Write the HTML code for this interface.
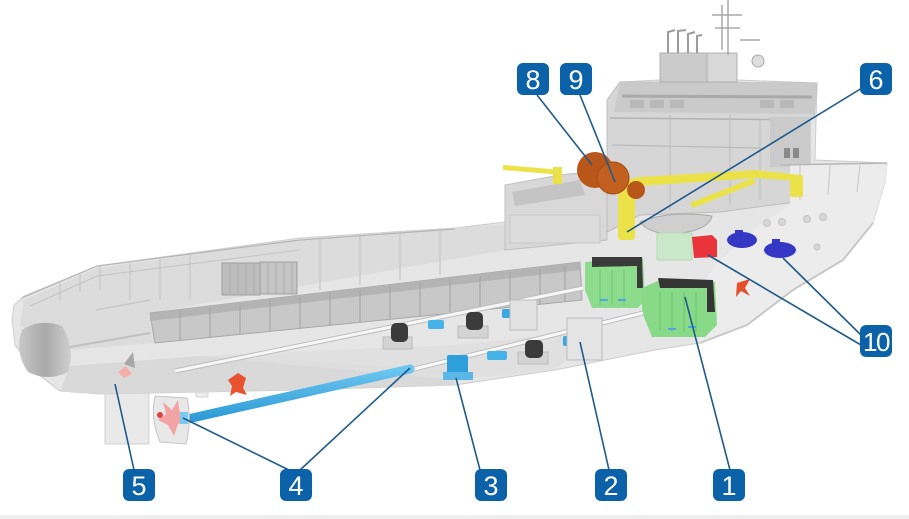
<!DOCTYPE html>
<html><head><meta charset="utf-8"><style>
html,body{margin:0;padding:0;background:#fff;}
svg{display:block;}
.lb{font-family:"Liberation Sans",sans-serif;font-size:27px;fill:#fff;text-anchor:middle;}
</style></head><body>
<svg width="909" height="519" viewBox="0 0 909 519" xmlns="http://www.w3.org/2000/svg">
<defs>
<linearGradient id="cyl" x1="0" y1="0" x2="1" y2="0">
<stop offset="0" stop-color="#c8c8c8"/><stop offset="0.5" stop-color="#a9a9a9"/><stop offset="1" stop-color="#cfcfcf"/></linearGradient>
<linearGradient id="shaft" x1="0" y1="0" x2="0" y2="1">
<stop offset="0" stop-color="#6cc6f0"/><stop offset="1" stop-color="#2c9ad6"/></linearGradient>
</defs>
<rect width="909" height="519" fill="#fff"/>
<rect x="0" y="515" width="909" height="4" fill="#efefef"/>

<!-- skeg / rudder (behind hull) -->
<rect x="105" y="378" width="44" height="66" fill="#e9e9e9" stroke="#d2d2d2" stroke-width="1"/>
<rect x="196" y="355" width="12" height="42" fill="#ececec" stroke="#d6d6d6"/>

<!-- hull silhouette -->
<path d="M12,320 L14,305 L24,296 L97,266 L300,238 L455,228 L505,222 L508,185 L560,175 L607,170 L607,100 L620,82 L660,80 L660,53 L737,53 L737,80 L817,83 L815,160 L887,163 L885,182 L873,223 L843,260 L793,290 L747,325 L700,343 L655,350 L555,370 L455,385 L300,390 L100,394 L60,391 L35,372 L15,345 Z" fill="#e6e6e6" stroke="#cdcdcd" stroke-width="1"/>

<!-- aft deck surface -->
<path d="M24,300 L97,268 L300,240 L505,224 L505,250 L150,313 L155,343 L70,350 L20,326 Z" fill="#dcdcdc"/>
<!-- lower hull darker band -->
<path d="M70,366 L200,356 L455,370 L455,385 L300,390 L100,394 L60,391 Z" fill="#d9d9d9"/>
<path d="M200,356 L455,345 L600,330 L555,370 L455,380 Z" fill="#dedede" opacity="0.8"/>
<!-- stern cylinder -->
<path d="M22,330 Q40,318 62,326 Q76,350 68,372 Q48,382 28,372 Q14,352 22,330 Z" fill="url(#cyl)"/>

<!-- aft rail -->
<polyline points="22,298 97,266 300,240 455,229" fill="none" stroke="#b5b5b5" stroke-width="1.2"/>
<polyline points="30,306 97,276 300,250" fill="none" stroke="#c4c4c4" stroke-width="1"/>
<g stroke="#c2c2c2" stroke-width="1">
<line x1="60" y1="283" x2="60" y2="300"/><line x1="80" y1="274" x2="80" y2="292"/>
<line x1="100" y1="266" x2="100" y2="290"/><line x1="130" y1="262" x2="130" y2="300"/>
<line x1="160" y1="258" x2="160" y2="300"/><line x1="190" y1="254" x2="190" y2="300"/>
<line x1="320" y1="237" x2="320" y2="290"/><line x1="360" y1="234" x2="360" y2="285"/>
<line x1="400" y1="231" x2="400" y2="280"/><line x1="440" y1="229" x2="440" y2="275"/>
</g>
<!-- side rail -->
<polyline points="70,347 150,333" fill="none" stroke="#c0c0c0" stroke-width="2"/>
<polyline points="96,310 150,300" fill="none" stroke="#c8c8c8" stroke-width="1.5"/>

<!-- containers -->
<rect x="222" y="263" width="38" height="32" fill="#bdbdbd" stroke="#9e9e9e"/>
<rect x="260" y="262" width="37" height="32" fill="#c4c4c4" stroke="#9e9e9e"/>
<g stroke="#a5a5a5" stroke-width="0.8">
<line x1="230" y1="264" x2="230" y2="294"/><line x1="238" y1="264" x2="238" y2="294"/><line x1="246" y1="264" x2="246" y2="294"/><line x1="254" y1="264" x2="254" y2="294"/>
<line x1="268" y1="263" x2="268" y2="293"/><line x1="276" y1="263" x2="276" y2="293"/><line x1="284" y1="263" x2="284" y2="293"/><line x1="292" y1="263" x2="292" y2="293"/>
</g>

<!-- cargo rail -->
<path d="M150,313 L580,262 L582,300 L155,343 Z" fill="#c8c8c8" stroke="#a8a8a8" stroke-width="1"/>
<path d="M150,313 L580,262 L580,270 L150,321 Z" fill="#b4b4b4"/>
<g stroke="#a6a6a6" stroke-width="1.2">
<line x1="180" y1="311" x2="180" y2="340"/><line x1="210" y1="307" x2="210" y2="337"/>
<line x1="240" y1="304" x2="240" y2="334"/><line x1="270" y1="300" x2="270" y2="331"/>
<line x1="300" y1="297" x2="300" y2="328"/><line x1="330" y1="293" x2="330" y2="325"/>
<line x1="360" y1="290" x2="360" y2="322"/><line x1="390" y1="286" x2="390" y2="319"/>
<line x1="420" y1="283" x2="420" y2="316"/><line x1="450" y1="279" x2="450" y2="313"/>
<line x1="480" y1="276" x2="480" y2="310"/><line x1="510" y1="272" x2="510" y2="307"/>
<line x1="540" y1="269" x2="540" y2="304"/><line x1="565" y1="266" x2="565" y2="301"/>
</g>

<!-- boat deck block -->
<path d="M505,185 L560,175 L607,170 L607,240 L505,250 Z" fill="#d8d8d8" stroke="#c0c0c0"/>
<path d="M512,192 L580,180 L585,195 L515,206 Z" fill="#c4c4c4"/>
<rect x="510" y="215" width="90" height="28" fill="#dcdcdc" stroke="#c8c8c8"/>

<!-- superstructure -->
<path d="M607,100 L620,82 L817,83 L814,118 L810,118 L810,200 L720,212 L640,215 L607,232 Z" fill="#d6d6d6" stroke="#bdbdbd"/>
<path d="M620,82 L817,83 L815,114 L614,112 Z" fill="#cacaca"/>
<line x1="622" y1="96" x2="812" y2="97" stroke="#a9a9a9" stroke-width="3"/>
<g fill="#b8b8b8"><rect x="630" y="100" width="14" height="8"/><rect x="650" y="100" width="14" height="8"/><rect x="670" y="100" width="14" height="8"/><rect x="760" y="100" width="14" height="8"/><rect x="780" y="100" width="14" height="8"/></g>
<line x1="610" y1="118" x2="810" y2="120" stroke="#b3b3b3" stroke-width="1.5"/>
<line x1="612" y1="145" x2="760" y2="148" stroke="#bbbbbb" stroke-width="1.2"/>
<g stroke="#bcbcbc" stroke-width="1"><line x1="670" y1="115" x2="670" y2="210"/><line x1="730" y1="115" x2="730" y2="205"/><line x1="760" y1="120" x2="760" y2="200"/></g>
<rect x="770" y="117" width="40" height="50" fill="#cbcbcb"/>
<rect x="784" y="148" width="6" height="10" fill="#8a8a8a"/><rect x="793" y="148" width="6" height="10" fill="#8a8a8a"/>
<!-- funnel -->
<path d="M660,53 L707,53 L707,82 L660,82 Z" fill="#cbcbcb" stroke="#b0b0b0"/>
<path d="M707,53 L737,53 L737,82 L707,82 Z" fill="#d8d8d8" stroke="#b0b0b0"/>
<g fill="none" stroke="#9c9c9c" stroke-width="2">
<path d="M668,53 L668,32 L675,30"/><path d="M678,53 L678,31 L686,30"/><path d="M688,53 L688,34 L695,32"/><path d="M697,53 L697,36 L702,35"/>
</g>
<g stroke="#a8a8a8" stroke-width="1.5">
<line x1="728" y1="0" x2="728" y2="55"/><line x1="722" y1="5" x2="722" y2="50"/>
<line x1="712" y1="15" x2="742" y2="15"/><line x1="715" y1="28" x2="740" y2="28"/>
<line x1="740" y1="40" x2="760" y2="40"/>
</g>
<circle cx="758" cy="61" r="6" fill="#dedede" stroke="#aaa"/>

<!-- bow -->
<path d="M790,165 L887,165 L885,182 L873,223 L843,260 L793,290 L747,325 L700,343 L690,300 L720,260 L760,225 L790,205 Z" fill="#ececec"/>
<polyline points="780,165 887,163" fill="none" stroke="#b8b8b8" stroke-width="1.5"/>
<g stroke="#c6c6c6"><line x1="800" y1="165" x2="800" y2="200"/><line x1="830" y1="165" x2="828" y2="195"/><line x1="860" y1="165" x2="857" y2="192"/></g>
<g fill="#d6d6d6" stroke="#c4c4c4">
<circle cx="767" cy="223" r="3.5"/><circle cx="782" cy="222" r="3.5"/><circle cx="807" cy="219" r="3.5"/><circle cx="823" cy="217" r="3.5"/><circle cx="817" cy="247" r="3"/>
</g>
<path d="M700,343 L747,325 L793,290 L843,260 L873,223" fill="none" stroke="#c8c8c8" stroke-width="2"/>

<!-- lifeboat -->
<path d="M640,222 Q670,210 712,216 Q708,232 670,234 Q648,233 640,222 Z" fill="#cfcfcf" stroke="#a8a8a8"/>

<!-- yellow cranes -->
<g fill="#ebe24a">
<rect x="618" y="188" width="17" height="52" rx="3"/>
<path d="M620,190 Q625,178 640,177 L757,170 L800,175 L800,181 L757,178 L640,186 Z"/>
<path d="M690,203 L753,178 L756,183 L693,208 Z"/>
<rect x="790" y="175" width="13" height="22" rx="2"/>
<path d="M503,165 L562,170 L562,175 L503,170 Z"/>
<rect x="553" y="167" width="9" height="17"/>
</g>

<!-- winches 8/9 -->
<circle cx="595" cy="170" r="18" fill="#b9561a"/>
<circle cx="613" cy="178" r="16" fill="#c4601f" stroke="#a04a14" stroke-width="1"/>
<circle cx="636" cy="190" r="9" fill="#b9561a"/>

<!-- green transparent box, red box, pumps -->
<rect x="657" y="233" width="35" height="27" fill="#c9e8c9" stroke="#b7d8b7"/>
<path d="M692,237 L712,235 L717,240 L717,257 L694,258 Z" fill="#e8343a"/>
<g fill="#3438c4">
<ellipse cx="742" cy="240" rx="15" ry="8"/><rect x="735" y="230" width="8" height="6"/>
<ellipse cx="780" cy="250" rx="16" ry="8"/><rect x="772" y="239" width="8" height="6"/>
</g>
<!-- small bow propeller -->
<path d="M737,283 L750,279 L745,288 L750,296 L741,291 L736,297 Z" fill="#e5502a"/>

<!-- engines -->
<path d="M585,262 L643,258 L645,300 L638,308 L592,308 L585,290 Z" fill="#8ddc8d"/>
<path d="M592,257 L642,257 L643,288 L637,288 L637,266 L592,267 Z" fill="#3a3a3a"/>
<path d="M642,288 L660,280 L715,282 L717,325 L705,337 L652,337 L642,312 Z" fill="#88da88"/>
<path d="M658,278 L713,280 L715,312 L707,312 L707,288 L660,288 Z" fill="#353535"/>
<g stroke="#6cc46c" stroke-width="1"><line x1="660" y1="292" x2="660" y2="330"/><line x1="672" y1="292" x2="672" y2="332"/><line x1="684" y1="292" x2="684" y2="332"/><line x1="696" y1="292" x2="696" y2="332"/><line x1="600" y1="270" x2="600" y2="305"/><line x1="612" y1="270" x2="612" y2="305"/><line x1="624" y1="270" x2="624" y2="305"/></g>
<g fill="#4aa8e0"><rect x="600" y="299" width="8" height="2"/><rect x="618" y="299" width="8" height="2"/><rect x="668" y="328" width="8" height="2"/><rect x="688" y="326" width="8" height="2"/></g>

<!-- upper shaft line -->
<line x1="175" y1="371" x2="583" y2="288" stroke="#bdbdbd" stroke-width="5"/>
<line x1="175" y1="371" x2="583" y2="288" stroke="#f7f7f7" stroke-width="3"/>
<!-- lower white shaft -->
<line x1="410" y1="370" x2="643" y2="313" stroke="#bdbdbd" stroke-width="5"/>
<line x1="410" y1="370" x2="643" y2="313" stroke="#f8f8f8" stroke-width="3"/>

<!-- upper components -->
<rect x="383" y="337" width="29" height="12" fill="#d4d4d4" stroke="#bbb"/>
<rect x="391" y="323" width="17" height="19" rx="5" fill="#3b3b3b"/>
<rect x="458" y="326" width="30" height="12" fill="#d4d4d4" stroke="#bbb"/>
<rect x="466" y="312" width="17" height="18" rx="5" fill="#3b3b3b"/>
<rect x="428" y="320" width="16" height="9" rx="2" fill="#45b2e8"/>
<rect x="502" y="309" width="8" height="9" rx="2" fill="#3aa8e0"/>
<rect x="510" y="300" width="27" height="30" fill="#e2e2e2" stroke="#bcbcbc"/>
<!-- lower components -->
<rect x="518" y="352" width="30" height="12" fill="#d4d4d4" stroke="#bbb"/>
<rect x="525" y="340" width="18" height="18" rx="5" fill="#3b3b3b"/>
<rect x="487" y="351" width="20" height="9" rx="2" fill="#45b2e8"/>
<rect x="563" y="336" width="10" height="10" rx="2" fill="#3aa8e0"/>
<rect x="567" y="318" width="35" height="42" fill="#e4e4e4" stroke="#bdbdbd"/>
<rect x="447" y="355" width="21" height="25" rx="2" fill="#2f9fdc"/>
<rect x="443" y="372" width="30" height="8" fill="#5bb8e6"/>

<!-- blue main shaft -->
<line x1="183" y1="420" x2="410" y2="369" stroke="url(#shaft)" stroke-width="9" stroke-linecap="round"/>
<!-- nozzle & propeller -->
<path d="M155,396 Q150,418 160,442 L186,444 Q192,420 187,398 Z" fill="#e8e8e8" stroke="#c5c5c5"/>
<path d="M163,402 L172,410 L178,400 L180,414 L188,422 L178,424 L174,436 L168,425 L158,420 L166,414 Z" fill="#f2a4a4"/>
<circle cx="160" cy="415" r="3" fill="#e04040"/>
<rect x="180" y="412" width="8" height="12" fill="#7cc8ee"/>
<!-- stern thruster propeller -->
<path d="M228,380 L238,373 L246,378 L243,388 L247,395 L236,392 L230,396 L232,386 Z" fill="#e8522f"/>
<path d="M118,372 L126,366 L132,374 L124,378 Z" fill="#f4b0a8"/>
<path d="M124,364 L133,352 L135,368 Z" fill="#a8a8a8"/>

<!-- connector lines -->
<g stroke="#1e5b8c" stroke-width="1.6" fill="none">
<line x1="537" y1="95" x2="592" y2="165"/>
<line x1="580" y1="95" x2="615" y2="182"/>
<line x1="862" y1="88" x2="627" y2="232"/>
<line x1="861" y1="345" x2="708" y2="255"/>
<line x1="864" y1="338" x2="783" y2="258"/>
<line x1="730" y1="470" x2="685" y2="297"/>
<line x1="609" y1="470" x2="580" y2="342"/>
<line x1="480" y1="470" x2="456" y2="378"/>
<line x1="300" y1="470" x2="410" y2="368"/>
<line x1="291" y1="471" x2="183" y2="418"/>
<line x1="134" y1="470" x2="115" y2="384"/>
</g>

<!-- labels -->
<g fill="#0b62a8">
<rect x="517" y="63" width="32" height="32" rx="6"/>
<rect x="560" y="63" width="32" height="32" rx="6"/>
<rect x="860" y="63" width="32" height="32" rx="6"/>
<rect x="860" y="325" width="32" height="32" rx="6"/>
<rect x="713" y="469" width="32" height="32" rx="6"/>
<rect x="595" y="469" width="32" height="32" rx="6"/>
<rect x="475" y="469" width="32" height="32" rx="6"/>
<rect x="280" y="469" width="32" height="32" rx="6"/>
<rect x="123" y="469" width="32" height="32" rx="6"/>
</g>
<text class="lb" x="533" y="89">8</text>
<text class="lb" x="576" y="89">9</text>
<text class="lb" x="876" y="89">6</text>
<text class="lb" x="876" y="351" style="font-size:26px;letter-spacing:-1.5px">10</text>
<text class="lb" x="729" y="495">1</text>
<text class="lb" x="611" y="495">2</text>
<text class="lb" x="491" y="495">3</text>
<text class="lb" x="296" y="495">4</text>
<text class="lb" x="139" y="495">5</text>
</svg>
</body></html>
